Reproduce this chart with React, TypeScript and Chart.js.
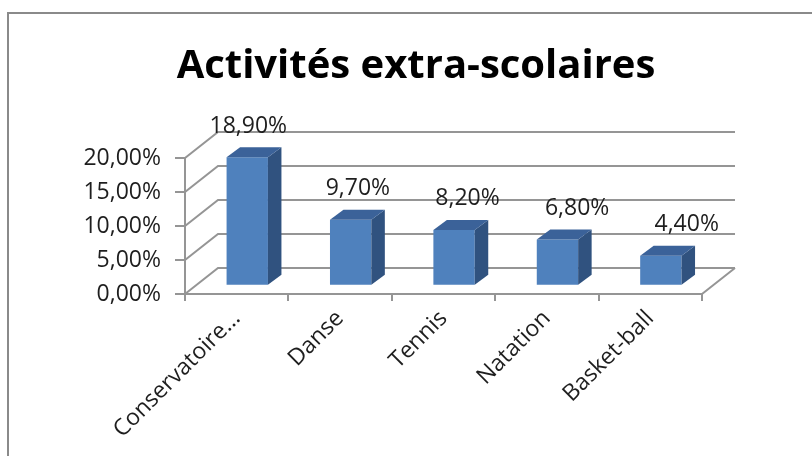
import React, { useEffect, useRef } from "react";
import { Chart, registerables } from "chart.js";

Chart.register(...registerables);

const TITLE = "Activités extra-scolaires";
const categories = ["Conservatoire...", "Danse", "Tennis", "Natation", "Basket-ball"];
const values = [18.9, 9.7, 8.2, 6.8, 4.4];
const yTickValues = [0, 5, 10, 15, 20];

const fmt = (v: number) => v.toFixed(2).replace(".", ",") + "%";

const GRID = "#959595";
const FONT = "'Open Sans', sans-serif";
const DEPTH_X = 33;
const DEPTH_Y = -26;
const BAR_POS = 0.32; // fraction of depth where bar front sits
const BAR_DX = 13.5;
const BAR_DY = -10;

const threeD = {
  id: "threeD",
  beforeDraw(chart: any) {
    const ctx = chart.ctx;
    ctx.save();
    ctx.fillStyle = "#ffffff";
    ctx.fillRect(0, 0, chart.width, chart.height);
    ctx.strokeStyle = "#8a8a8a";
    ctx.lineWidth = 2;
    ctx.strokeRect(8, 13, chart.width + 20, chart.height + 20);
    ctx.fillStyle = "#000000";
    ctx.font = `bold 40px ${FONT}`;
    ctx.textAlign = "center";
    ctx.textBaseline = "alphabetic";
    ctx.fillText(TITLE, 416, 78);
    ctx.restore();
  },
  beforeDatasetsDraw(chart: any) {
    const ctx = chart.ctx;
    const ca = chart.chartArea;
    const y = chart.scales.y;
    ctx.save();
    ctx.strokeStyle = GRID;
    ctx.lineWidth = 2;
    ctx.beginPath();
    for (const v of yTickValues) {
      const py = y.getPixelForValue(v);
      ctx.moveTo(ca.left, py);
      ctx.lineTo(ca.left + DEPTH_X, py + DEPTH_Y);
      ctx.lineTo(ca.right + DEPTH_X, py + DEPTH_Y);
    }
    ctx.moveTo(ca.right, ca.bottom);
    ctx.lineTo(ca.right + DEPTH_X, ca.bottom + DEPTH_Y);
    ctx.stroke();
    ctx.restore();
  },
  beforeDatasetDraw(chart: any) {
    const ctx = chart.ctx;
    ctx.save();
    ctx.translate(DEPTH_X * BAR_POS, DEPTH_Y * BAR_POS);
  },
  afterDatasetDraw(chart: any, args: any) {
    const ctx = chart.ctx;
    const meta = args.meta;
    meta.data.forEach((el: any) => {
      const { x, y, base, width } = el.getProps(["x", "y", "base", "width"], true);
      const l = x - width / 2;
      const r = x + width / 2;
      ctx.fillStyle = "#30527f";
      ctx.beginPath();
      ctx.moveTo(r, y);
      ctx.lineTo(r + BAR_DX, y + BAR_DY);
      ctx.lineTo(r + BAR_DX, base + BAR_DY);
      ctx.lineTo(r, base);
      ctx.closePath();
      ctx.fill();
      ctx.fillStyle = "#3b6299";
      ctx.beginPath();
      ctx.moveTo(l, y);
      ctx.lineTo(r, y);
      ctx.lineTo(r + BAR_DX, y + BAR_DY);
      ctx.lineTo(l + BAR_DX, y + BAR_DY);
      ctx.closePath();
      ctx.fill();
    });
    ctx.restore();
  },
  afterDatasetsDraw(chart: any) {
    const ctx = chart.ctx;
    const meta = chart.getDatasetMeta(0);
    ctx.save();
    ctx.font = `23px ${FONT}`;
    ctx.fillStyle = "#1e1e1e";
    ctx.textAlign = "center";
    ctx.textBaseline = "middle";
    meta.data.forEach((el: any, i: number) => {
      const { x, y } = el.getProps(["x", "y"], true);
      const fx = x + DEPTH_X * BAR_POS;
      const fy = y + DEPTH_Y * BAR_POS;
      const lx = fx + 0.06 * (fx - 230);
      ctx.fillText(fmt(values[i]), lx, fy - 31);
    });
    ctx.restore();
  },
};

export default function App() {
  const ref = useRef<HTMLCanvasElement | null>(null);
  useEffect(() => {
    if (!ref.current) return;
    const chart = new Chart(ref.current, {
      type: "bar",
      data: {
        labels: categories,
        datasets: [
          {
            data: values,
            backgroundColor: "#4F81BD",
            borderWidth: 0,
            barPercentage: 0.4,
            categoryPercentage: 1,
            clip: false as any,
          },
        ],
      },
      options: {
        responsive: false,
        animation: false,
        devicePixelRatio: 1,
        layout: { padding: { left: 0, right: 110, top: 158, bottom: 0 } },
        plugins: {
          legend: { display: false },
          tooltip: { enabled: false },
          title: { display: false },
        },
        scales: {
          x: {
            grid: {
              offset: true,
              drawOnChartArea: false,
              drawTicks: true,
              tickLength: 7,
              color: GRID,
              lineWidth: 2,
            },
            border: { display: true, color: GRID, width: 2 },
            ticks: {
              minRotation: 45,
              maxRotation: 45,
              autoSkip: false,
              color: "#1e1e1e",
              padding: 4,
              font: { family: FONT, size: 23 },
            },
            afterFit: (s: any) => {
              s.height = 162;
            },
          },
          y: {
            min: 0,
            max: 20,
            ticks: {
              stepSize: 5,
              color: "#1e1e1e",
              padding: 14,
              font: { family: FONT, size: 23 },
              callback: (v: any) => fmt(Number(v)),
            },
            grid: {
              drawOnChartArea: false,
              drawTicks: true,
              tickLength: 10,
              color: GRID,
              lineWidth: 2,
            },
            border: { display: true, color: GRID, width: 2 },
            afterFit: (s: any) => {
              s.width = 185;
            },
          },
        },
      },
      plugins: [threeD],
    });
    return () => chart.destroy();
  }, []);
  return (
    <div style={{ position: "fixed", left: 0, top: 0, width: 812, height: 456, background: "#fff" }}>
      <canvas ref={ref} width={812} height={456} style={{ display: "block" }} />
    </div>
  );
}
